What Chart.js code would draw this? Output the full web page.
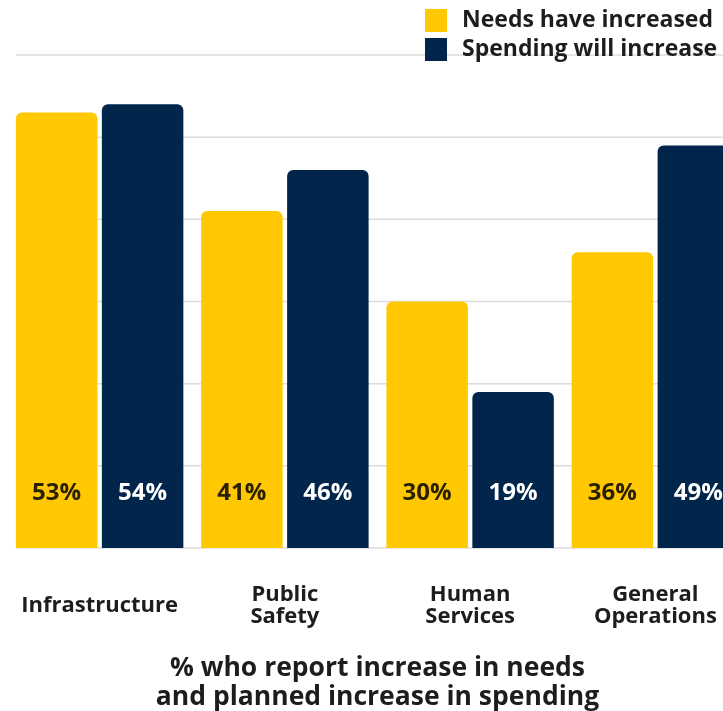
<!DOCTYPE html>
<html>
<head>
<meta charset="utf-8">
<script src="https://cdn.jsdelivr.net/npm/chart.js@4/dist/chart.umd.min.js"></script>
<style>
  html, body { margin: 0; padding: 0; background: #ffffff; }
  #frame { width: 723px; height: 711px; overflow: hidden; position: relative; }
  canvas { display: block; }
</style>
</head>
<body>
<div id="frame"><canvas id="c" width="752" height="711"></canvas></div>
<script>
// Survey results: share reporting increased needs vs. planned spending increases
const categories = [
  ['Infrastructure'],
  ['Public', 'Safety'],
  ['Human', 'Services'],
  ['General', 'Operations']
];
const seriesNames = ['Needs have increased', 'Spending will increase'];
const needsIncreased = [53, 41, 30, 36];
const spendingIncrease = [54, 46, 19, 49];
const axisTitle = ['% who report increase in needs', 'and planned increase in spending'];

const YELLOW = '#FFC800';
const NAVY = '#02254B';
const INK = '#1d1d1f';
const FONT = "'Open Sans', 'DejaVu Sans', sans-serif";

// Horizontal guide lines at every y tick, starting just left of the first bar
const guideLines = {
  id: 'guideLines',
  beforeDatasetsDraw(chart) {
    const ctx = chart.ctx;
    const y = chart.scales.y;
    ctx.save();
    ctx.strokeStyle = '#dcdcdc';
    ctx.lineWidth = 1.5;
    y.ticks.forEach(t => {
      const py = y.getPixelForValue(t.value);
      ctx.beginPath();
      ctx.moveTo(16, py);
      ctx.lineTo(chart.chartArea.right, py);
      ctx.stroke();
    });
    ctx.restore();
  }
};

// Legend stacked in the top-right corner
const stackedLegend = {
  id: 'stackedLegend',
  afterDraw(chart) {
    const ctx = chart.ctx;
    ctx.save();
    ctx.font = `700 23px ${FONT}`;
    ctx.textBaseline = 'middle';
    ctx.textAlign = 'left';
    chart.data.datasets.forEach((ds, i) => {
      const top = 9 + i * 29;
      ctx.fillStyle = ds.backgroundColor;
      ctx.fillRect(425, top, 22, 23);
      ctx.fillStyle = INK;
      ctx.fillText(ds.label, 462, top + 11);
    });
    ctx.restore();
  }
};

// Percentage labels near the foot of each bar
const barValues = {
  id: 'barValues',
  afterDatasetsDraw(chart) {
    const ctx = chart.ctx;
    const base = chart.scales.y.getPixelForValue(0);
    ctx.save();
    ctx.font = `700 24px ${FONT}`;
    ctx.textAlign = 'center';
    ctx.textBaseline = 'middle';
    chart.data.datasets.forEach((ds, i) => {
      const meta = chart.getDatasetMeta(i);
      ctx.fillStyle = ds.labelColor;
      meta.data.forEach((bar, j) => {
        ctx.fillText(ds.data[j] + '%', bar.x, base - 55);
      });
    });
    ctx.restore();
  }
};

new Chart(document.getElementById('c'), {
  type: 'bar',
  data: {
    labels: categories,
    datasets: [
      {
        label: seriesNames[0],
        data: needsIncreased,
        backgroundColor: YELLOW,
        labelColor: '#2a2100',
        borderRadius: { topLeft: 6, topRight: 6 },
        borderSkipped: 'start'
      },
      {
        label: seriesNames[1],
        data: spendingIncrease,
        backgroundColor: NAVY,
        labelColor: '#ffffff',
        borderRadius: { topLeft: 6, topRight: 6 },
        borderSkipped: 'start'
      }
    ]
  },
  options: {
    responsive: false,
    animation: false,
    layout: { padding: { left: 7, right: 4, top: 55, bottom: 0 } },
    categoryPercentage: 0.928,
    barPercentage: 0.948,
    plugins: {
      legend: { display: false },
      tooltip: { enabled: false }
    },
    scales: {
      x: {
        grid: { display: false, drawTicks: false },
        border: { display: false },
        afterFit(scale) {
          scale.height = 163;
          scale.paddingLeft = 0;
          scale.paddingRight = 0;
        },
        ticks: {
          color: INK,
          font: { family: FONT, weight: '700', size: 22, lineHeight: 1.0 },
          padding: 47,
          crossAlign: 'center',
          maxRotation: 0,
          autoSkip: false
        },
        title: {
          display: true,
          text: axisTitle,
          color: INK,
          font: { family: FONT, weight: '700', size: 26.5, lineHeight: 1.06 },
          padding: { top: 0, bottom: 0 }
        }
      },
      y: {
        display: false,
        min: 0,
        max: 60,
        ticks: { stepSize: 10 }
      }
    }
  },
  plugins: [guideLines, stackedLegend, barValues]
});
</script>
</body>
</html>
